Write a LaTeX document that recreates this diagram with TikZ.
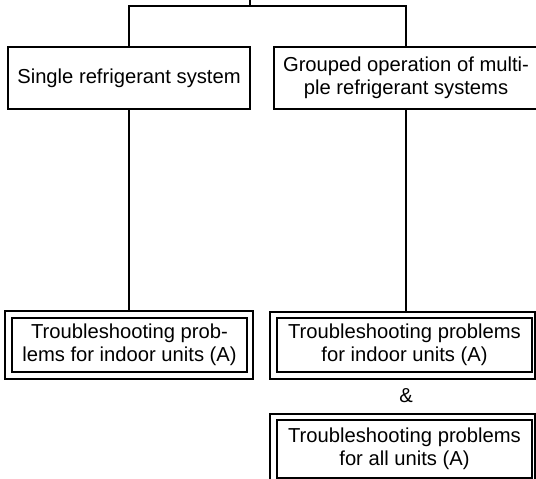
\documentclass[tikz,border=0pt]{standalone}
\usepackage{fontspec}
\setmainfont{Liberation Sans}
\begin{document}
\begin{tikzpicture}[x=1pt,y=-1pt,
  lw/.style={line width=1.8pt},
  box/.style={draw,lw,rectangle,inner sep=0pt,align=center,
    font=\fontsize{20.2}{22.5}\selectfont},
  outer/.style={draw,lw,rectangle,inner sep=0pt},
  txt/.style={font=\fontsize{20.2}{22.5}\selectfont}]
\useasboundingbox (0,0) rectangle (536,479);
\clip (0,0) rectangle (536,479);
% top level boxes
\node[box,minimum width=242pt,minimum height=62pt] (b1) at (129,78) {Single refrigerant system};
\node[box,minimum width=264pt,minimum height=62pt] (b2) at (406,78) {Grouped operation of multi-\\ple refrigerant systems};
% outer frames
\node[outer,minimum width=248pt,minimum height=68pt] (Aout) at (129,345) {};
\node[outer,minimum width=265pt,minimum height=67pt] (Bout) at (402.5,345.5) {};
\node[outer,minimum width=265pt,minimum height=71pt] (Cout) at (402.5,449.5) {};
% inner boxes
\node[box,minimum width=235pt,minimum height=54pt] (A) at (129.5,345) {Troubleshooting prob-\\lems for indoor units (A)};
\node[box,minimum width=255pt,minimum height=54pt] (B) at (404.5,345) {Troubleshooting problems\\for indoor units (A)};
\node[box,minimum width=255pt,minimum height=58pt] (C) at (404.5,449) {Troubleshooting problems\\for all units (A)};
\node[txt] (amp) at (406,396) {\&};
% connectors
\coordinate (hub) at (250,6);
\coordinate (top) at (250,-2);
\draw[lw] (top) -- (hub);
\draw[lw] (b1.north) |- (hub) -| (b2.north);
\draw[lw] (b1.south) -- (Aout.north);
\draw[lw] (b2.south) -- (b2.south |- Bout.north);
\end{tikzpicture}
\end{document}
